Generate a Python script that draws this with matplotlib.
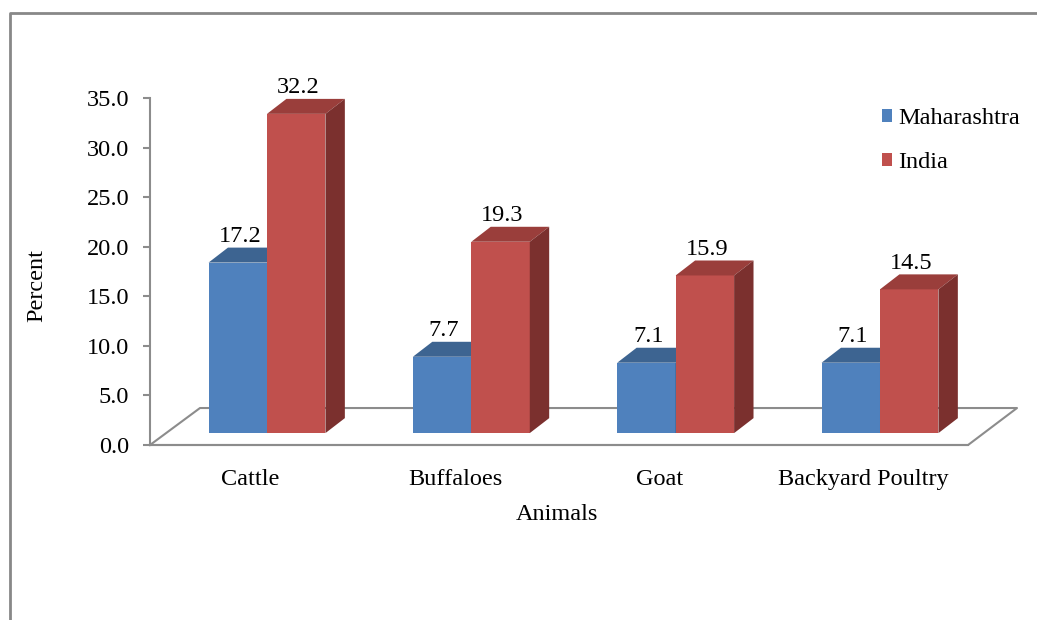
import matplotlib
matplotlib.use("Agg")
import matplotlib.pyplot as plt
from matplotlib.lines import Line2D

plt.rcParams['font.family'] = ['Liberation Serif', 'DejaVu Serif']

animals = ["Cattle", "Buffaloes", "Goat", "Backyard Poultry"]
maharashtra = [17.2, 7.7, 7.1, 7.1]
india = [32.2, 19.3, 15.9, 14.5]
series_names = ["Maharashtra", "India"]

# face colours: front, top, side
blue = ("#4F81BD", "#3D6491", "#2F4F75")
red = ("#C0504D", "#9A3E3B", "#7B302E")
grey = "#8C8C8C"
fs = 17.5

# pseudo-3d geometry in data units
w = 0.286      # bar width
lift = 1.2     # front base of bars sits a little above the floor edge
dx, dy = 0.095, 1.51
floor_x = [-0.5726, -0.328, 3.6705, 3.431, -0.5726]
floor_y = [0, 3.73, 3.73, 0, 0]

fig = plt.figure(figsize=(10.37, 6.2), dpi=100)
ax = fig.add_axes([150/1037, 175/620, 867/1037, 347/620])
ax.set_xlim(-0.5726, 3.6705)
ax.set_ylim(0, 35)

ax.plot(floor_x, floor_y, color=grey, lw=1.5, zorder=1, clip_on=False)


def box(x0, v, cols, label=None):
    top = lift + v
    bar = ax.bar(x0, v, width=w, bottom=lift, align='edge', color=cols[0],
                 edgecolor='none', zorder=3, label=label)
    ax.fill([x0, x0 + w, x0 + w + dx, x0 + dx],
            [top, top, top + dy, top + dy], color=cols[1], lw=0, zorder=3)
    ax.fill([x0 + w, x0 + w + dx, x0 + w + dx, x0 + w],
            [lift, lift + dy, top + dy, top], color=cols[2], lw=0, zorder=3)
    ax.text(x0 + w / 2 + 0.01, top + dy + 0.05, f"{v:.1f}", ha='center',
            va='bottom', fontsize=fs, zorder=4)
    return bar


for i in range(len(animals)):
    box(i - w, maharashtra[i], blue, series_names[0] if i == 0 else None)
    box(i, india[i], red, series_names[1] if i == 0 else None)

# axes styling
for s in ('top', 'right'):
    ax.spines[s].set_visible(False)
ax.spines['left'].set_color(grey)
ax.spines['left'].set_linewidth(1.5)
ax.spines['bottom'].set_color(grey)
ax.spines['bottom'].set_linewidth(1.5)
ax.spines['bottom'].set_bounds(-0.5726, 3.431)

ax.set_yticks(range(0, 36, 5))
ax.set_yticklabels([f"{t:.1f}" for t in range(0, 36, 5)])
ax.tick_params(axis='y', length=5, width=1.5, color=grey, pad=10, labelsize=fs)
ax.set_xticks([i - 0.08 for i in range(len(animals))])
ax.set_xticklabels(animals)
ax.tick_params(axis='x', length=0, pad=17, labelsize=fs)

ax.set_xlabel("Animals", fontsize=fs, va='center')
ax.xaxis.set_label_coords(0.4694, -0.2)
ax.set_ylabel("Percent", fontsize=fs, va='center')
ax.yaxis.set_label_coords(-0.1303, 0.461)

ax.legend(loc='center left', bbox_to_anchor=(882/1037, 1 - 140.5/620),
          bbox_transform=fig.transFigure, frameon=False, borderpad=0,
          borderaxespad=0, handlelength=0.42, handleheight=0.42,
          handletextpad=0.25, labelspacing=0.95, fontsize=fs)

# chart area border (left and top edges)
fig.add_artist(Line2D([9.5/1037, 9.5/1037, 1.0], [0.0, 1 - 12.5/620, 1 - 12.5/620],
                      transform=fig.transFigure, color="#888888", lw=2))

fig.savefig("out.png", dpi=100, facecolor='white')
